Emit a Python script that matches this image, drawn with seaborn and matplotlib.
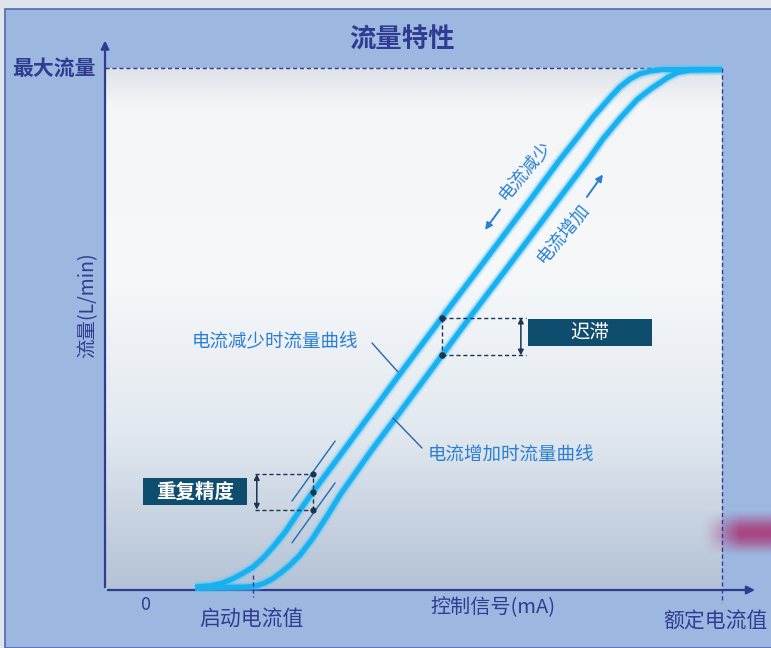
import matplotlib
matplotlib.use('Agg')
import matplotlib.pyplot as plt
import seaborn as sns
import numpy as np
import pandas as pd
from matplotlib.colors import LinearSegmentedColormap, to_rgb
from matplotlib.patches import Rectangle

# control signal (% of rated current) vs flow (% of max flow)
DEC_CURRENT = [14.6, 17.0, 19.0, 20.6, 22.2, 24.0, 25.6, 27.2, 29.2, 31.3, 33.7, 38.6,
               47.3, 54.8, 60.8, 68.9, 73.7, 76.5, 79.1, 81.9, 83.5, 85.1, 86.7, 88.3,
               90.3, 100.0]
DEC_FLOW = [0.6, 0.8, 1.3, 2.1, 3.1, 4.4, 6.1, 8.2, 11.1, 14.8, 18.8, 26.6,
            40.6, 52.5, 61.9, 74.7, 82.4, 86.6, 90.6, 94.4, 96.4, 97.9, 98.9, 99.4,
            99.7, 99.7]
INC_CURRENT = [14.6, 23.0, 24.5, 25.8, 27.1, 28.5, 30.0, 31.6, 33.6, 35.8, 38.2, 43.1,
               51.9, 59.3, 65.3, 73.4, 78.3, 80.7, 83.5, 86.2, 87.8, 88.7, 91.1, 92.7,
               94.8, 100.0]
INC_FLOW = [0.4, 0.6, 0.8, 1.3, 2.1, 3.3, 4.8, 6.7, 9.8, 13.8, 18.4, 26.6,
            40.6, 52.5, 61.9, 74.7, 82.4, 86.4, 90.4, 93.9, 95.4, 96.2, 98.1, 99.1,
            99.6, 99.7]

START_CURRENT = 23.99      # 启动电流值
HYST_CURRENT = 54.6        # where hysteresis is shown
REPEAT_CURRENT = 33.7      # where repeat accuracy is shown
REPEAT_BAND = 3.4

NAVY = '#2f3c92'
LABEL_BLUE = '#2a7fd2'
CURVE = '#19b0f0'
BOX = '#0f4d6e'
DARK = '#1b3550'

sns.set_theme(style='white')
plt.rcParams['font.family'] = ['Noto Sans CJK SC', 'DejaVu Sans']

fig = plt.figure(figsize=(7.71, 6.48), dpi=100)
fig.patch.set_facecolor('#dfe4ea')
ax = fig.add_axes([0, 0, 1, 1])
ax.set_xlim(-17.02, 107.94)
ax.set_ylim(-11.11, 113.03)
ax.axis('off')
ax.add_patch(Rectangle((5 / 771, 0), 1, 1 - 9 / 648, transform=ax.transAxes,
                       facecolor='#9cb8e0', edgecolor='#5566b8', lw=1.2, zorder=0))

# plot area background gradient
grad_cmap = LinearSegmentedColormap.from_list(
    'bg', [(0, '#b3c2d6'), (0.3, '#e1e8ef'), (0.6, '#f6f8fa'), (0.93, '#f4f5f7'), (1, '#dfe3e8')])
ax.imshow(np.linspace(0, 1, 256).reshape(-1, 1), cmap=grad_cmap, aspect='auto',
          extent=(0, 100, 0, 100), origin='lower', zorder=0.5)

# magenta blur on the right edge
mag = np.zeros((60, 90, 4))
mag[..., :3] = to_rgb('#a8407f')
xs = np.clip(np.linspace(-0.3, 1.8, 90), 0, 1) ** 1.3
ys = np.exp(-((np.linspace(-1, 1, 60)) ** 2) * 1.6)
ys = np.clip((ys - 0.2) / 0.8, 0, 1)
mag[..., 3] = (ys[:, None] * xs[None, :]) * 0.95
ax.imshow(mag, extent=((690 - 105) / 6.17, (771 - 105) / 6.17, (590 - 556) / 5.22, (590 - 510) / 5.22),
          aspect='auto', zorder=0.6, interpolation='bilinear')

# axes with arrows
ax.annotate('', xy=(0, 105.8), xytext=(0, 0),
            arrowprops=dict(arrowstyle='-|>', color=NAVY, lw=1.6, mutation_scale=12))
ax.annotate('', xy=(105.8, 0), xytext=(0, 0),
            arrowprops=dict(arrowstyle='-|>', color=NAVY, lw=1.6, mutation_scale=12))

dash = (0, (3, 2))
ax.plot([0, 100], [100, 100], color=NAVY, lw=1, ls=dash, zorder=2)
ax.plot([100, 100], [100, -2.5], color=NAVY, lw=1, ls=dash, zorder=2)
ax.plot([START_CURRENT, START_CURRENT], [2.9, -1.4], color=NAVY, lw=1, ls=dash, zorder=4)

# flow curves
df = pd.concat([
    pd.DataFrame({'current': DEC_CURRENT, 'flow': DEC_FLOW, 'curve': 'dec'}),
    pd.DataFrame({'current': INC_CURRENT, 'flow': INC_FLOW, 'curve': 'inc'}),
])
for lw, alpha, col in [(8, 0.22, '#6fd0f8'), (5.5, 0.45, '#45bff3'), (3.6, 1, CURVE)]:
    sns.lineplot(data=df, x='current', y='flow', hue='curve', units='curve', estimator=None,
                 sort=False, palette={'dec': col, 'inc': col}, lw=lw, alpha=alpha,
                 legend=False, ax=ax, zorder=3, solid_capstyle='butt', solid_joinstyle='round')
ax.set_xlim(-17.02, 107.94)
ax.set_ylim(-11.11, 113.03)
ax.axis('off')

# hysteresis
y_dec = np.interp(HYST_CURRENT, DEC_CURRENT, DEC_FLOW)
y_inc = np.interp(HYST_CURRENT, INC_CURRENT, INC_FLOW)
for yy in (y_dec, y_inc):
    ax.plot([HYST_CURRENT, 68.2], [yy, yy], color=DARK, lw=1, ls=dash, zorder=4)
ax.plot([HYST_CURRENT, HYST_CURRENT], [y_dec, y_inc], color=DARK, lw=1, ls=dash, zorder=4)
ax.scatter([HYST_CURRENT, HYST_CURRENT], [y_dec, y_inc], s=14, color=DARK, zorder=5)
ax.annotate('', xy=(67.4, y_dec), xytext=(67.4, y_inc),
            arrowprops=dict(arrowstyle='<|-|>', color=DARK, lw=1.1, mutation_scale=8,
                            shrinkA=0, shrinkB=0), zorder=5)
ax.add_patch(Rectangle((68.56, 46.74), 20.1, 5.18, facecolor=BOX, edgecolor='none', zorder=5))
ax.text(78.6, 49.3, '迟滞', color='white', fontsize=14, ha='center', va='center', zorder=6)

# repeat accuracy
y_mid = np.interp(REPEAT_CURRENT, DEC_CURRENT, DEC_FLOW)
y_hi, y_lo = y_mid + REPEAT_BAND, y_mid - REPEAT_BAND
for yy in (y_hi, y_lo):
    ax.plot([24.3, REPEAT_CURRENT], [yy, yy], color=DARK, lw=1, ls=dash, zorder=4)
ax.plot([REPEAT_CURRENT, REPEAT_CURRENT], [y_lo, y_hi], color=DARK, lw=1, ls=dash, zorder=4)
ax.scatter([REPEAT_CURRENT] * 3, [y_hi, y_mid, y_lo], s=12, color=DARK, zorder=5)
ax.annotate('', xy=(24.6, y_hi), xytext=(24.6, y_lo),
            arrowprops=dict(arrowstyle='<|-|>', color=DARK, lw=1.1, mutation_scale=8,
                            shrinkA=0, shrinkB=0), zorder=5)
seg = np.linspace(30.3, 37.3, 2)
seg_y = np.interp(seg, DEC_CURRENT, DEC_FLOW)
ax.plot(seg, seg_y + REPEAT_BAND + 0.6, color='#1d6fb5', lw=1, zorder=4)
ax.plot(seg, seg_y - REPEAT_BAND - 0.6, color='#1d6fb5', lw=1, zorder=4)
ax.add_patch(Rectangle((6.16, 16.28), 16.85, 5.18, facecolor=BOX, edgecolor='none', zorder=5))
ax.text(14.6, 18.85, '重复精度', color='white', fontsize=14, fontweight='bold',
        ha='center', va='center', zorder=6)

# curve labels and leader lines
ax.text(27.55, 47.5, '电流减少时流量曲线', color=LABEL_BLUE, fontsize=13.3,
        fontweight='medium', ha='center', va='center')
ax.plot([43.27, 47.49], [47.32, 41.76], color='#2d64a8', lw=1, zorder=4)
ax.text(65.8, 25.67, '电流增加时流量曲线', color=LABEL_BLUE, fontsize=13.3,
        fontweight='medium', ha='center', va='center')
ax.plot([46.68, 51.38], [32.95, 27.2], color='#2d64a8', lw=1, zorder=4)

ax.text(68.1, 80.4, '电流减少', color=LABEL_BLUE, fontsize=13, rotation=50,
        rotation_mode='anchor', ha='center', va='center')
ax.annotate('', xy=(61.6, 69.0), xytext=(64.0, 72.9),
            arrowprops=dict(arrowstyle='-|>', color=LABEL_BLUE, lw=1.4, mutation_scale=10,
                            shrinkA=0, shrinkB=0))
ax.text(74.2, 68.4, '电流增加', color=LABEL_BLUE, fontsize=13, rotation=50,
        rotation_mode='anchor', ha='center', va='center')
ax.annotate('', xy=(80.7, 79.6), xytext=(78.1, 75.3),
            arrowprops=dict(arrowstyle='-|>', color=LABEL_BLUE, lw=1.4, mutation_scale=10,
                            shrinkA=0, shrinkB=0))

# axis texts
ax.text(48.1, 105.3, '流量特性', color=NAVY, fontsize=19, fontweight='bold', ha='center', va='center')
ax.text(-1.6, 100, '最大流量', color=NAVY, fontsize=15, fontweight='bold', ha='right', va='center')
ax.text(-2.8, 54.6, '流量(L/min)', color=NAVY, fontsize=14, rotation=90, ha='center', va='center')
ax.text(6.48, -2.9, '0', color=NAVY, fontsize=13, ha='center', va='center')
ax.text(23.8, -5.75, '启动电流值', color=NAVY, fontsize=15, ha='center', va='center')
ax.text(62.9, -3.3, '控制信号(mA)', color=NAVY, fontsize=14.5, ha='center', va='center')
ax.text(99.0, -6.1, '额定电流值', color=NAVY, fontsize=15, ha='center', va='center')

fig.savefig('out.png', dpi=100)
